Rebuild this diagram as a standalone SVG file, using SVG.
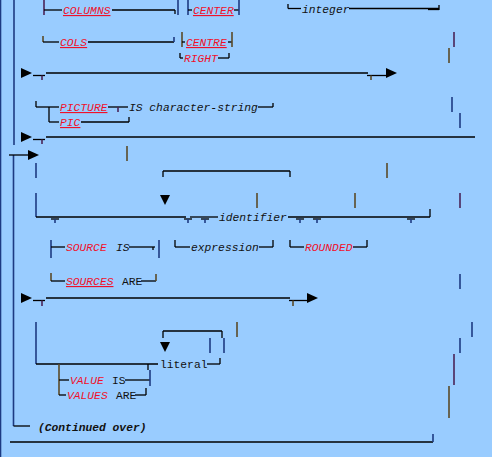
<svg xmlns="http://www.w3.org/2000/svg" width="492" height="457" viewBox="0 0 492 457">
<style>
.h{stroke:#000;stroke-width:1.3;fill:none}
.v{stroke:#1d3a82;stroke-width:1.6;fill:none}
.vb{stroke:#5a4a28;stroke-width:1.6;fill:none}
.vp{stroke:#4a2458;stroke-width:1.6;fill:none}
.t{font-family:"Liberation Mono","DejaVu Sans Mono",monospace;font-size:11.3px;fill:#111}
.i{font-style:italic}
.k{fill:#f0102a;font-style:italic}
.u{text-decoration:underline}
.b{font-weight:bold;font-style:italic}
.a{fill:#000}
</style>
<defs>
<path id="ar" d="M0,-5 L11,0 L0,5 Z"/>
<path id="ad" d="M-5,0 L5,0 L0,10 Z"/>
</defs>
<rect width="492" height="457" fill="#99ccff"/>
<g id="connectors">
<line class="v" x1="0.5" y1="0" x2="0.5" y2="457"/>
<!-- main left vertical -->
<line class="v" x1="14" y1="0" x2="14" y2="145"/>
<line class="v" x1="13.5" y1="155" x2="13.5" y2="426"/>
<line class="h" x1="13.5" y1="426" x2="30" y2="426"/>
<line class="h" x1="9" y1="155" x2="29" y2="155"/>
<use href="#ar" x="28" y="155" class="a"/>
<!-- row 1 -->
<line class="vp" x1="44" y1="0" x2="44" y2="15"/>
<line class="h" x1="44" y1="10" x2="62" y2="10"/>
<line class="h" x1="112" y1="10" x2="175" y2="10"/>
<line class="h" x1="175" y1="10" x2="175" y2="14"/>
<line class="v" x1="178" y1="0" x2="178" y2="15"/>
<line class="v" x1="188" y1="0" x2="188" y2="15"/>
<line class="h" x1="188" y1="10" x2="192" y2="10"/>
<line class="h" x1="234" y1="10" x2="239" y2="10"/>
<line class="v" x1="239" y1="0" x2="239" y2="15"/>
<line class="h" x1="288" y1="4" x2="288" y2="8.5"/>
<line class="h" x1="288" y1="8.5" x2="301" y2="8.5"/>
<line class="h" x1="349" y1="8.5" x2="439" y2="8.5"/>
<line class="h" x1="428" y1="9.5" x2="439" y2="9.5"/>
<line class="h" x1="439" y1="5" x2="439" y2="10"/>
<!-- row 2 -->
<line class="vb" x1="43" y1="36" x2="43" y2="42"/>
<line class="h" x1="43" y1="42" x2="59" y2="42"/>
<line class="h" x1="88" y1="42" x2="174" y2="42"/>
<line class="v" x1="174" y1="37" x2="174" y2="42"/>
<line class="vb" x1="182" y1="32" x2="182" y2="47"/>
<line class="h" x1="182" y1="42" x2="185" y2="42"/>
<line class="h" x1="228" y1="42" x2="232" y2="42"/>
<line class="vb" x1="232" y1="32" x2="232" y2="47"/>
<line class="h" x1="180" y1="53" x2="180" y2="58"/>
<line class="h" x1="180" y1="58" x2="183" y2="58"/>
<line class="h" x1="218" y1="58" x2="229" y2="58"/>
<line class="h" x1="229" y1="53" x2="229" y2="58"/>
<line class="vp" x1="454" y1="32" x2="454" y2="47"/>
<line class="vb" x1="449" y1="48" x2="449" y2="63"/>
<!-- row 3 -->
<use href="#ar" x="21" y="73" class="a"/>
<line class="h" x1="33" y1="75.5" x2="45" y2="75.5"/>
<line class="vp" x1="42" y1="75.5" x2="42" y2="80"/>
<line class="h" x1="46" y1="73" x2="368" y2="73"/>
<line class="h" x1="367" y1="75.5" x2="386" y2="75.5"/>
<line class="vb" x1="371" y1="75.5" x2="371" y2="80"/>
<use href="#ar" x="386" y="73" class="a"/>
<!-- picture -->
<line class="h" x1="36" y1="101" x2="36" y2="107"/>
<line class="h" x1="36" y1="107" x2="59" y2="107"/>
<line class="h" x1="49" y1="107" x2="49" y2="122"/>
<line class="h" x1="108" y1="107" x2="128" y2="107"/>
<line class="vp" x1="118" y1="107" x2="118" y2="112"/>
<line class="h" x1="258" y1="107" x2="273" y2="107"/>
<line class="h" x1="273" y1="103" x2="273" y2="107"/>
<line class="h" x1="49" y1="122" x2="59" y2="122"/>
<line class="h" x1="81" y1="122" x2="129" y2="122"/>
<line class="h" x1="129" y1="117" x2="129" y2="122"/>
<line class="v" x1="452" y1="97" x2="452" y2="112"/>
<line class="v" x1="460" y1="113" x2="460" y2="128"/>
<!-- row 137 -->
<use href="#ar" x="21" y="137" class="a"/>
<line class="h" x1="33" y1="139.5" x2="45" y2="139.5"/>
<line class="vp" x1="42" y1="139.5" x2="42" y2="144"/>
<line class="h" x1="46" y1="137" x2="475" y2="137"/>
<line class="vb" x1="127" y1="146" x2="127" y2="161"/>
<!-- identifier block -->
<line class="h" x1="163" y1="171" x2="290" y2="171"/>
<line class="h" x1="163" y1="171" x2="163" y2="177"/>
<line class="h" x1="290" y1="171" x2="290" y2="177"/>
<line class="vb" x1="387" y1="163" x2="387" y2="178"/>
<line class="v" x1="36" y1="163" x2="36" y2="178"/>
<line class="v" x1="36" y1="193" x2="36" y2="217"/>
<line class="h" x1="36" y1="217" x2="186" y2="217"/>
<line class="h" x1="51" y1="219" x2="59" y2="219"/>
<line class="v" x1="55" y1="219" x2="55" y2="223"/>
<use href="#ad" x="165" y="195" class="a"/>
<line class="h" x1="184" y1="219" x2="192" y2="219"/>
<line class="v" x1="188" y1="219" x2="188" y2="223"/>
<line class="h" x1="190" y1="217" x2="218" y2="217"/>
<line class="h" x1="201" y1="219" x2="209" y2="219"/>
<line class="v" x1="205" y1="219" x2="205" y2="223"/>
<line class="h" x1="288" y1="217" x2="430" y2="217"/>
<line class="h" x1="296" y1="219" x2="304" y2="219"/>
<line class="v" x1="300" y1="219" x2="300" y2="223"/>
<line class="h" x1="313" y1="219" x2="321" y2="219"/>
<line class="v" x1="317" y1="219" x2="317" y2="223"/>
<line class="h" x1="407" y1="219" x2="415" y2="219"/>
<line class="v" x1="411" y1="219" x2="411" y2="223"/>
<line class="h" x1="430" y1="209" x2="430" y2="217"/>
<line class="vb" x1="257" y1="193" x2="257" y2="208"/>
<line class="vb" x1="355" y1="193" x2="355" y2="208"/>
<line class="vp" x1="460" y1="193" x2="460" y2="208"/>
<!-- source -->
<line class="v" x1="51" y1="240" x2="51" y2="258"/>
<line class="h" x1="51" y1="247" x2="65" y2="247"/>
<line class="h" x1="129" y1="247" x2="155" y2="247"/>
<line class="h" x1="153" y1="247" x2="153" y2="250"/>
<line class="v" x1="159" y1="240" x2="159" y2="258"/>
<line class="h" x1="175" y1="240" x2="175" y2="247"/>
<line class="h" x1="175" y1="247" x2="190" y2="247"/>
<line class="h" x1="259" y1="247" x2="273" y2="247"/>
<line class="h" x1="273" y1="240" x2="273" y2="247"/>
<line class="h" x1="290" y1="240" x2="290" y2="247"/>
<line class="h" x1="290" y1="247" x2="304" y2="247"/>
<line class="h" x1="353" y1="247" x2="367" y2="247"/>
<line class="h" x1="367" y1="240" x2="367" y2="247"/>
<line class="vb" x1="51" y1="273" x2="51" y2="281"/>
<line class="h" x1="51" y1="281" x2="65" y2="281"/>
<line class="h" x1="141" y1="281" x2="156" y2="281"/>
<line class="vb" x1="156" y1="274" x2="156" y2="281"/>
<line class="v" x1="460" y1="274" x2="460" y2="289"/>
<!-- row 298 -->
<use href="#ar" x="21" y="298" class="a"/>
<line class="h" x1="33" y1="300.5" x2="45" y2="300.5"/>
<line class="vp" x1="42" y1="300.5" x2="42" y2="306"/>
<line class="h" x1="46" y1="298" x2="290" y2="298"/>
<line class="h" x1="289" y1="300.5" x2="307" y2="300.5"/>
<line class="vb" x1="293" y1="300.5" x2="293" y2="306"/>
<use href="#ar" x="307" y="298" class="a"/>
<!-- literal -->
<line class="v" x1="36" y1="322" x2="36" y2="364"/>
<line class="h" x1="36" y1="364" x2="158" y2="364"/>
<line class="h" x1="163" y1="331" x2="222" y2="331"/>
<line class="h" x1="163" y1="331" x2="163" y2="338"/>
<line class="h" x1="222" y1="331" x2="222" y2="338"/>
<line class="v" x1="210" y1="338" x2="210" y2="353"/>
<line class="v" x1="224" y1="338" x2="224" y2="353"/>
<line class="vb" x1="237" y1="322" x2="237" y2="337"/>
<use href="#ad" x="165" y="342" class="a"/>
<line class="h" x1="207" y1="364" x2="220" y2="364"/>
<line class="h" x1="220" y1="358" x2="220" y2="364"/>
<line class="vb" x1="59" y1="364" x2="59" y2="395"/>
<line class="h" x1="59" y1="380" x2="69" y2="380"/>
<line class="h" x1="125" y1="380" x2="150" y2="380"/>
<line class="h" x1="148" y1="364" x2="148" y2="370"/>
<line class="v" x1="150" y1="370" x2="150" y2="386"/>
<line class="h" x1="59" y1="395" x2="66" y2="395"/>
<line class="h" x1="135" y1="395" x2="146" y2="395"/>
<line class="h" x1="146" y1="388" x2="146" y2="395"/>
<line class="v" x1="472" y1="322" x2="472" y2="337"/>
<line class="v" x1="460" y1="338" x2="460" y2="353"/>
<line class="vp" x1="454" y1="354" x2="454" y2="385"/>
<line class="vb" x1="449" y1="386" x2="449" y2="418"/>
<!-- bottom -->
<line class="h" x1="10" y1="442" x2="433" y2="442"/>
<line class="v" x1="433" y1="434" x2="433" y2="442"/>
</g>
<g id="n-columns"><text class="t k u" x="63" y="14">COLUMNS</text></g>
<g id="n-center"><text class="t k u" x="193" y="14">CENTER</text></g>
<g id="n-integer"><text class="t i" x="302" y="12.5">integer</text></g>
<g id="n-cols"><text class="t k u" x="60" y="46">COLS</text></g>
<g id="n-centre"><text class="t k u" x="186" y="46">CENTRE</text></g>
<g id="n-right"><text class="t k" x="184" y="61.5">RIGHT</text></g>
<g id="n-picture"><text class="t k u" x="60" y="111">PICTURE</text></g>
<g id="n-charstring"><text class="t i" x="129" y="111">IS character-string</text></g>
<g id="n-pic"><text class="t k u" x="60" y="126">PIC</text></g>
<g id="n-identifier"><text class="t i" x="219" y="221">identifier</text></g>
<g id="n-source"><text class="t k" x="66" y="251">SOURCE</text><text class="t i" x="116" y="251">IS</text></g>
<g id="n-expression"><text class="t i" x="191" y="251">expression</text></g>
<g id="n-rounded"><text class="t k" x="305" y="251">ROUNDED</text></g>
<g id="n-sources"><text class="t k u" x="66" y="285">SOURCES</text><text class="t" x="122" y="285">ARE</text></g>
<g id="n-literal"><text class="t" x="160" y="368">literal</text></g>
<g id="n-value"><text class="t k" x="70" y="384">VALUE</text><text class="t" x="112" y="384">IS</text></g>
<g id="n-values"><text class="t k" x="67" y="399">VALUES</text><text class="t" x="116" y="399">ARE</text></g>
<g id="n-continued"><text class="t b" x="38" y="431">(Continued over)</text></g>
</svg>
